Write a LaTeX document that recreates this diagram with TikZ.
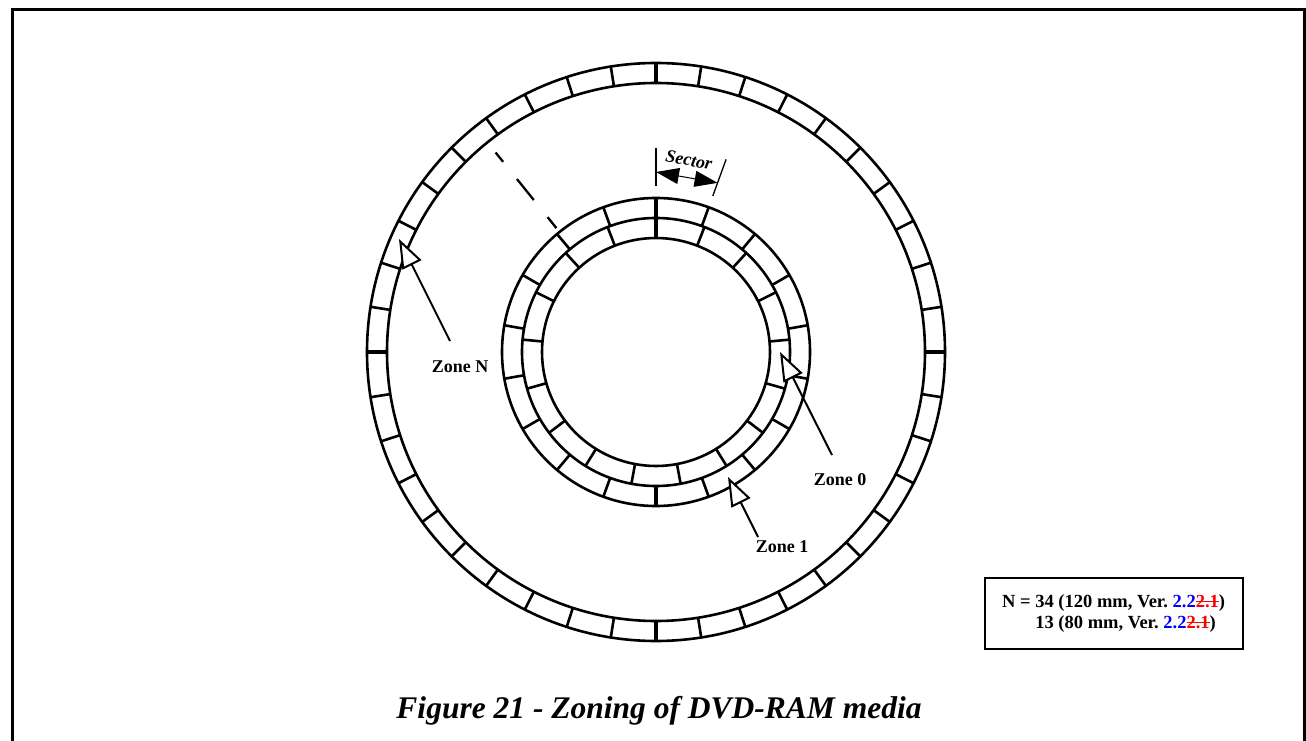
\documentclass[tikz,border=0pt]{standalone}
\usepackage{fontspec}
\setmainfont{Liberation Serif}
\usetikzlibrary{arrows.meta}
\definecolor{verblue}{RGB}{0,0,255}
\definecolor{verred}{RGB}{255,0,0}
\newcommand\mystrike[1]{\setbox0\hbox{#1}\rlap{\rule[0.27em]{\wd0}{0.07em}}\box0}
\newcommand\oldver{\textcolor{verblue}{2.2}\textcolor{verred}{\mystrike{2.1}}}
\begin{document}
\begin{tikzpicture}[x=1pt,y=1pt,
  ring/.style={line width=2.6pt},
  tickline/.style={line width=2.6pt},
  cardtick/.style={line width=4pt},
  dimline/.style={line width=1.3pt},
  lbl/.style={font=\fontsize{18}{21}\selectfont\bfseries, inner sep=0pt},
  leglbl/.style={font=\fontsize{18.5}{21}\selectfont\bfseries, inner sep=0pt},
  zonearrow/.style={line width=2pt, -{Triangle[length=29pt,width=21pt,fill=white,line width=2pt]}},
  dimarrow/.style={line width=1pt, {Triangle[length=23pt,width=16pt]}-{Triangle[length=23pt,width=16pt]}}
]
\useasboundingbox (0,0) rectangle (1306,740);
\fill[white] (0,0) rectangle (1306,740);
% frame
\draw[line width=3pt] (12,-10) -- (12,730) -- (1304,730) -- (1304,-10);

\begin{scope}[shift={(656,388)}]
  % outer ring (Zone N)
  \draw[ring] (0,0) circle (289);
  \draw[ring] (0,0) circle (269);
  \foreach \a in {0,9,...,351} \draw[tickline] (\a:269) -- (\a:289);
  \foreach \a in {0,90,180,270} \draw[cardtick] (\a:269) -- (\a:289);
  % inner rings
  \draw[ring] (0,0) circle (154);
  \draw[ring] (0,0) circle (134);
  \draw[ring] (0,0) circle (114);
  % Zone 1 band: 18 sectors
  \foreach \k in {0,...,17} \draw[tickline] ({90+20*\k}:134) -- ({90+20*\k}:154);
  % Zone 0 band: 17 sectors
  \foreach \k in {0,...,16} \draw[tickline] ({90+360/17*\k}:114) -- ({90+360/17*\k}:134);
  \draw[cardtick] (90:114) -- (90:154);
  \draw[cardtick] (270:134) -- (270:154);
  % dashed radial line
  \coordinate (d1) at (128.8:256);
  \coordinate (d2) at (128.8:159);
  \draw[line width=2.3pt, dash pattern=on 27pt off 22pt, dash phase=15pt] (d1) -- (d2);
  % sector dimension
  \coordinate (sa1) at (90:166); \coordinate (sa2) at (90:204);
  \coordinate (sb1) at (70:166); \coordinate (sb2) at (70:205);
  \coordinate (sc1) at (90:180); \coordinate (sc2) at (70:180);
  \draw[dimline] (sa1) -- (sa2);
  \draw[dimline] (sb1) -- (sb2);
  \draw[dimarrow] (sc1) -- (sc2);
\end{scope}

\node[font=\fontsize{18}{21}\selectfont\bfseries\itshape, inner sep=0pt, rotate=-10] (sector) at (689,580) {Sector};

% zone labels and arrows
\node[lbl, anchor=base] (zN) at (460,368) {Zone N};
\node[lbl, anchor=base] (z0) at (840,255) {Zone 0};
\node[lbl, anchor=base] (z1) at (782,188) {Zone 1};
\coordinate (tailN) at (450,399); \coordinate (tipN) at (399,501);
\coordinate (tail0) at (832,285); \coordinate (tip0) at (780,388);
\coordinate (tail1) at (758,203); \coordinate (tip1) at (728,263);
\draw[zonearrow] (tailN) -- (tipN);
\draw[zonearrow] (tail0) -- (tip0);
\draw[zonearrow] (tail1) -- (tip1);

% legend
\node[draw, line width=2.5pt, minimum width=258pt, minimum height=71pt, inner sep=0pt] (legend) at (1114,126.5) {};
\node[leglbl, anchor=base west] (leg1) at (1002,133) {N = 34 (120 mm, Ver.\ \oldver)};
\node[leglbl, anchor=base west] (leg2) at (1002,112) {\phantom{N = }13 (80 mm, Ver.\ \oldver)};

% caption
\node[font=\fontsize{31.5}{36}\selectfont\bfseries\itshape, inner sep=0pt, anchor=base] (caption) at (659,22) {Figure 21 - Zoning of DVD-RAM media};
\end{tikzpicture}
\end{document}
